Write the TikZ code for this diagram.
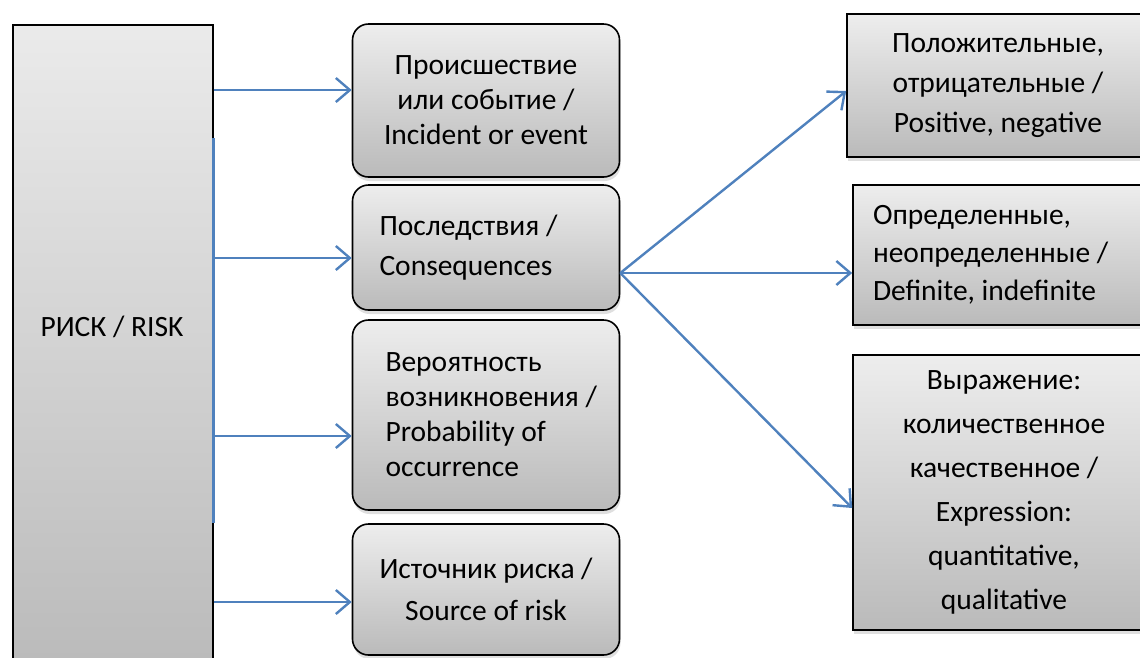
\documentclass[tikz,border=0pt]{standalone}
\usepackage{fontspec}
\setmainfont{Carlito}
\usetikzlibrary{arrows.meta,shadows}

\definecolor{linkblue}{RGB}{79,129,189}

\begin{document}
\begin{tikzpicture}[x=1pt, y=-1pt,
	box/.style={draw=black, line width=1.6pt, top color=black!7, bottom color=black!27,
		inner ysep=0pt, font=\fontsize{29.5}{35}\selectfont},
	midbox/.style={box, rounded corners=16pt, text width=213pt, inner xsep=27pt,
		drop shadow={shadow xshift=1pt, shadow yshift=-4pt, fill=black!25}},
	sidebox/.style={box, text width=262pt, inner xsep=20pt,
		drop shadow={shadow xshift=1pt, shadow yshift=-4pt, fill=black!25}},
	link/.style={draw=linkblue, line width=2.4pt, -{Straight Barb[length=14pt, width=24pt]}}]
	\useasboundingbox (0,0) rectangle (1140,657);
	% left column
	\node[box, top color=black!8, bottom color=black!27, minimum width=200pt, minimum height=646pt,
		anchor=north west] (risk) at (12,24) {};
	\node[font=\fontsize{29.5}{35}\selectfont] (risklabel) at (112,327) {РИСК / RISK};
	%
	% middle column
	\node[midbox, minimum height=153pt, align=flush center] (inc) at (486,100.5)
		{Происшествие\\или событие /\\Incident or event};
	\node[midbox, minimum height=125pt, align=flush left, font=\fontsize{29.5}{40}\selectfont] (cons) at (486,247.5)
		{Последствия /\\Consequences};
	\node[midbox, minimum height=190pt, align=flush left, text width=225pt, inner xsep=21pt] (prob) at (486,415)
		{\hspace*{12pt}Вероятность\\\hspace*{12pt}возникновения /\\\hspace*{12pt}Probability of\\\hspace*{12pt}occurrence};
	\node[midbox, minimum height=131pt, align=flush center, font=\fontsize{29.5}{42}\selectfont] (src) at (486,589.5)
		{Источник риска /\\Source of risk};
	%
	% right column
	\node[sidebox, minimum height=143pt, align=flush center, font=\fontsize{29.5}{40}\selectfont] (posneg) at (998,85.5)
		{Положительные,\\отрицательные /\\Positive, negative};
	\node[sidebox, minimum height=140pt, align=flush left, font=\fontsize{29.5}{38}\selectfont] (def) at (1004,255)
		{Определенные,\\неопределенные /\\Definite, indefinite};
	\node[sidebox, minimum height=275pt, align=flush center, font=\fontsize{29.5}{44}\selectfont] (expr) at (1004,492.5)
		{Выражение:\\количественное\\качественное /\\Expression:\\quantitative,\\qualitative};
	%
	% connectors
	\draw[linkblue, line width=2.4pt] (risk.east |- 0,138) -- (risk.east |- 0,523);
	\draw[link] (risk.east |- 0,90) -- (inc.west |- 0,90);
	\draw[link] (risk.east |- 0,258) -- (cons.west |- 0,258);
	\draw[link] (risk.east |- 0,436) -- (prob.west |- 0,436);
	\draw[link] (risk.east |- 0,602) -- (src.west |- 0,602);
	%
	\coordinate (hub) at (cons.east |- 0,273);
	\draw[link] (hub) -- (posneg.west |- 0,91);
	\draw[link] (hub) -- (def.west |- 0,273);
	\draw[link] (hub) -- (expr.west |- 0,508);
\end{tikzpicture}
\end{document}
